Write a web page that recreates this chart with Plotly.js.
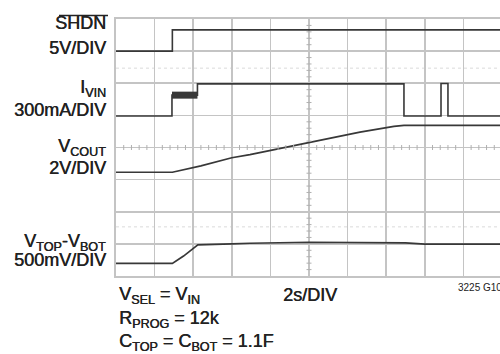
<!DOCTYPE html>
<html><head><meta charset="utf-8">
<script src="https://cdn.plot.ly/plotly-3.0.1.min.js"></script>
<style>html,body{margin:0;padding:0;overflow:hidden;background:#fff}#plot{width:500px;height:354px}</style>
</head><body><div id="plot"></div>
<script>
// ---- data (x in divisions, 2 s/div; y in screen divisions from bottom) ----
const shdnX = [0, 1.46, 1.46, 9.95];
const shdnY = [7.0, 7.0, 7.66, 7.66];

const ivinX = [0, 1.45, 1.45, 2.11, 2.11, 7.46, 7.46, 8.42, 8.42, 8.6, 8.6, 9.95];
const ivinY = [4.98, 4.98, 5.63, 5.63, 5.98, 5.98, 4.98, 4.98, 5.99, 5.99, 4.98, 4.98];
const ivinBarX = [1.45, 2.11];
const ivinBarY = [5.63, 5.63];

const vcoutX = [0, 1.46, 2.2, 3.0, 3.47, 4.25, 4.97, 6.32, 7.2, 7.46, 9.95];
const vcoutY = [3.23, 3.23, 3.43, 3.68, 3.78, 3.97, 4.15, 4.48, 4.66, 4.69, 4.69];

const vtopX = [0, 1.46, 1.75, 2.12, 3.0, 3.47, 5.0, 6.5, 7.5, 8.0, 9.95];
const vtopY = [0.39, 0.39, 0.62, 0.97, 1.0, 1.02, 1.05, 1.04, 1.03, 0.99, 0.99];

const channelNames = ["SHDN", "I<sub>VIN</sub>", "V<sub>COUT</sub>", "V<sub>TOP</sub>-V<sub>BOT</sub>"];
const channelScales = ["5V/DIV", "300mA/DIV", "2V/DIV", "500mV/DIV"];
const conditions = ["V<sub>SEL</sub> = V<sub>IN</sub>", "R<sub>PROG</sub> = 12k", "C<sub>TOP</sub> = C<sub>BOT</sub> = 1.1F"];
const timeScale = "2s/DIV";
const figId = "3225 G10";

// ---- layout geometry (pixels) ----
const W = 500, H = 354, L = 116, T = 19, B = 276.5;
const plotW = W - L, plotH = B - T;
const divPx = 38.6;
const xMax = plotW / divPx;
const px2x = p => (p - L) / plotW;
const py2y = p => (B - p) / plotH;

const family = "Liberation Sans, Arial, sans-serif";
const txtCol = "#222222";
const traceCol = "#383838";
const gridCol = "#c4c4c4";
const txtFont = {family: family, size: 18, color: txtCol, shadow: "0.45px 0 0 #222222"};

const line = (x, y, w) => ({x: x, y: y, type: "scatter", mode: "lines",
  line: {color: traceCol, width: w || 1.6}, hoverinfo: "skip", showlegend: false});

const data = [
  line(shdnX, shdnY),
  line(ivinX, ivinY),
  line(ivinBarX, ivinBarY, 7),
  line(vcoutX, vcoutY, 1.7),
  line(vtopX, vtopY, 1.7)
];

// ---- annotations ----
const ann = [];
const leftCenters = [[23.5, 48.5], [89, 110], [148, 168.5], [242.5, 260.5]];
channelNames.forEach((t, i) => {
  ann.push({text: t, xref: "paper", yref: "paper", x: px2x(108), y: py2y(leftCenters[i][0]),
    xanchor: "right", yanchor: "middle", showarrow: false, font: txtFont});
  ann.push({text: channelScales[i], xref: "paper", yref: "paper", x: px2x(108), y: py2y(leftCenters[i][1]),
    xanchor: "right", yanchor: "middle", showarrow: false, font: txtFont});
});
const condCenters = [296.5, 320, 343];
conditions.forEach((t, i) => {
  ann.push({text: t, xref: "paper", yref: "paper", x: px2x(117), y: py2y(condCenters[i]),
    xanchor: "left", yanchor: "middle", showarrow: false, font: txtFont});
});
ann.push({text: timeScale, xref: "paper", yref: "paper", x: px2x(281), y: py2y(295.5),
  xanchor: "left", yanchor: "middle", showarrow: false, font: txtFont});
ann.push({text: figId, xref: "paper", yref: "paper", x: px2x(456), y: py2y(288.5),
  xanchor: "left", yanchor: "middle", showarrow: false, font: {family: family, size: 10, color: txtCol}});

// ---- shapes: center-line ticks, faint reference lines, overline ----
const shapes = [];
for (let k = 1; k < 40; k++) {
  const yv = k * 0.2;
  if (Math.abs(yv - Math.round(yv)) < 1e-6) continue;
  shapes.push({type: "line", xref: "x", yref: "y", xsizemode: "pixel", xanchor: 5, x0: -2.5, x1: 2.5,
    y0: yv, y1: yv, line: {color: "#b0b0b0", width: 1}});
}
for (let k = 1; k < 50; k++) {
  const xv = k * 0.2;
  if (xv > xMax || Math.abs(xv - Math.round(xv)) < 1e-6) continue;
  shapes.push({type: "line", xref: "x", yref: "y", ysizemode: "pixel", yanchor: 4, y0: -2.5, y1: 2.5,
    x0: xv, x1: xv, line: {color: "#b0b0b0", width: 1}});
}
[6.47, 1.53].forEach(yv => shapes.push({type: "line", xref: "x", yref: "y", x0: 0, x1: xMax, y0: yv, y1: yv,
  line: {color: "#dadada", width: 1, dash: "dot"}, layer: "below"}));
shapes.push({type: "line", xref: "paper", yref: "paper", x0: px2x(59), x1: px2x(108), y0: py2y(15.5), y1: py2y(15.5),
  line: {color: txtCol, width: 1.3}});

const axisCommon = {showgrid: true, gridcolor: gridCol, gridwidth: 1.6, zeroline: false,
  showticklabels: false, ticks: "", showline: true, linecolor: gridCol, linewidth: 1.6, mirror: true, fixedrange: true};

const layout = {
  width: W, height: H,
  margin: {l: L, r: 0, t: T, b: H - B, pad: 0},
  paper_bgcolor: "#fff", plot_bgcolor: "#fff",
  xaxis: Object.assign({}, axisCommon, {range: [0, xMax], dtick: 1, tick0: 0}),
  yaxis: Object.assign({}, axisCommon, {range: [0, 8], dtick: 1, tick0: 0}),
  annotations: ann,
  shapes: shapes,
  showlegend: false
};

Plotly.newPlot("plot", data, layout, {staticPlot: true, displayModeBar: false});
</script></body></html>
